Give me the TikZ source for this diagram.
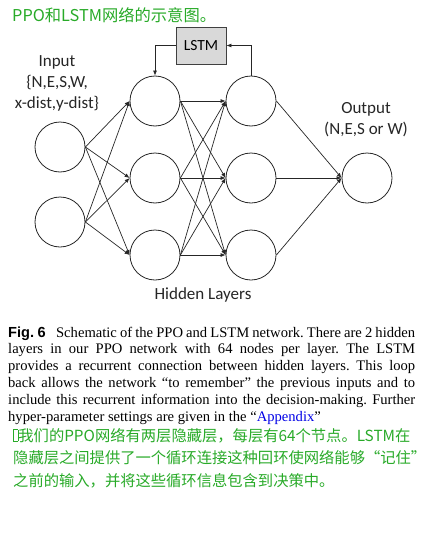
\documentclass[tikz,border=0pt]{standalone}
\usepackage{fontspec}
\setmainfont{Liberation Serif}
\newfontfamily\diagfont{Carlito}
\newfontfamily\figsans{Liberation Sans}
\newfontfamily\cjk{Noto Sans CJK SC}
\usetikzlibrary{arrows.meta}
\definecolor{cngreen}{RGB}{40,170,40}
\definecolor{boxgray}{RGB}{217,217,217}
\definecolor{linkblue}{RGB}{0,0,230}
\frenchspacing
\tikzset{
  neuron/.style={circle,draw=black!85,line width=0.8pt,minimum size=50pt,inner sep=0pt},
  conn/.style={draw=black!85,line width=0.7pt,-{Latex[length=5pt,width=4pt]}},
  lstmbox/.style={draw=black!75,fill=boxgray,line width=0.9pt,minimum width=50pt,minimum height=37pt,inner sep=0pt,font=\diagfont\fontsize{15.5}{18}\selectfont},
  lbl/.style={align=center,inner sep=0pt,font=\diagfont\fontsize{17}{21}\selectfont,text=black!85},
  capline/.style={anchor=base west,inner sep=0pt,font=\fontsize{14.6}{17}\selectfont},
  cnline/.style={anchor=base west,inner sep=0pt,text=cngreen,font=\cjk\fontsize{15.3}{20}\selectfont}
}
\begin{document}
\begin{tikzpicture}[x=1pt,y=-1pt]
\useasboundingbox (0,0) rectangle (444,538);
% title
\node[cnline,font=\cjk\fontsize{16.3}{20}\selectfont] (title) at (12,21) {PPO和LSTM网络的示意图。};
% neurons
\node[neuron] (in1) at (60,147) {};
\node[neuron] (in2) at (60,222) {};
\node[neuron] (h11) at (155,101) {};
\node[neuron] (h12) at (155,178) {};
\node[neuron] (h13) at (155,255) {};
\node[neuron] (h21) at (251,101) {};
\node[neuron] (h22) at (251,178) {};
\node[neuron] (h23) at (251,255) {};
\node[neuron] (out) at (367,178) {};
\node[lstmbox] (lstm) at (201,45.5) {LSTM};
% connections
\foreach \a in {in1,in2}{\foreach \b in {h11,h12,h13}{\draw[conn] (\a.east) -- (\b.west);}}
\foreach \a in {h11,h12,h13}{\foreach \b in {h21,h22,h23}{\draw[conn] (\a.east) -- (\b.west);}}
\foreach \a in {h21,h22,h23}{\draw[conn] (\a.east) -- (out.west);}
\draw[conn] (h21.north) |- (lstm.east);
\draw[conn] (lstm.west) -| (h11.north);
% labels
\node[lbl] (inlbl) at (57,83) {Input\\\{N,E,S,W,\\x-dist,y-dist\}};
\node[lbl] (outlbl) at (366,120) {Output\\(N,E,S or W)};
\node[lbl] (hidlbl) at (203,295) {Hidden Layers};
% caption
\node[capline] (cap1) at (8,337) {\makebox[407pt][s]{{\figsans\bfseries Fig. 6}\hspace{0.5em} Schematic of the PPO and LSTM network. There are 2 hidden}};
\node[capline] (cap2) at (8,353.8) {\makebox[407pt][s]{layers in our PPO network with 64 nodes per layer. The LSTM}};
\node[capline] (cap3) at (8,370.7) {\makebox[407pt][s]{provides a recurrent connection between hidden layers. This loop}};
\node[capline] (cap4) at (8,387.5) {\makebox[407pt][s]{back allows the network “to remember” the previous inputs and to}};
\node[capline] (cap5) at (8,404.4) {\makebox[407pt][s]{include this recurrent information into the decision-making. Further}};
\node[capline] (cap6) at (8,421.2) {hyper-parameter settings are given in the “\textcolor{linkblue}{Appendix}”};
% chinese
\node[cnline] (cn1) at (13,441) {{\setlength\fboxsep{0pt}\setlength\fboxrule{0.6pt}\fbox{\rule{0pt}{11pt}\hspace{4pt}}}我们的PPO网络有两层隐藏层，每层有64个节点。LSTM在};
\node[cnline] (cn2) at (13,463.5) {隐藏层之间提供了一个循环连接这种回环使网络能够“记住”};
\node[cnline] (cn3) at (13,486) {之前的输入，并将这些循环信息包含到决策中。};
\end{tikzpicture}
\end{document}
